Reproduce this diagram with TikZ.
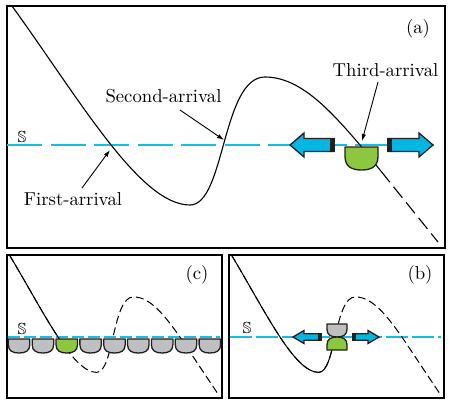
\documentclass[tikz,border=0pt]{standalone}
\usepackage{fontspec}
\usepackage{graphicx}
\usepackage{amssymb}
\usetikzlibrary{arrows.meta}
\definecolor{cyanline}{RGB}{20,190,228}
\definecolor{arrcyan}{RGB}{0,183,228}
\definecolor{detgreen}{RGB}{141,198,63}
\definecolor{detgray}{RGB}{190,191,193}
\definecolor{outl}{RGB}{35,31,32}
% detector: flat side at (#1,#2), width #3, height #4 (negative = flipped), style #5
\newcommand\drawdet[5]{%
\begin{scope}[shift={(#1,#2)},xscale=#3,yscale=#4]
\filldraw[#5] (0,0) -- (1,0) -- (1,0.4) .. controls (1,0.85) and (0.8,1) .. (0.5,1) .. controls (0.2,1) and (0,0.85) .. (0,0.4) -- cycle;
\end{scope}}
% block arrow: tip (#1,#2), dir #3 (1 = points left), length #4, head length #5, head half #6, body half #7, band #8
\newcommand\blockarrow[8]{%
\begin{scope}[shift={(#1,#2)},xscale=#3]
\filldraw[fill=arrcyan,draw=outl,line width=1.3pt,line join=miter] (0,0) -- (#5,-#6) -- (#5,-#7) -- (#4,-#7) -- (#4,#7) -- (#5,#7) -- (#5,#6) -- cycle;
\fill[outl] (#4-#8,-#7-0.6) rectangle (#4+0.6,#7+0.6);
\end{scope}}
\newcommand\wavepath[1]{\draw[#1] (12,6) .. controls (80,100) and (140,205) .. (190,205) .. controls (225,205) and (222,77) .. (265,77) .. controls (300,77) and (330,110) .. (360,145) -- (438,242);}
\newcommand\bigtxt[1]{\scalebox{1.87}{#1}}
\newcommand\sym{\scalebox{1.6}{$\mathbb{S}$}}
\begin{document}
\begin{tikzpicture}[x=1pt,y=-1pt,
  frame/.style={draw=black,line width=1.5pt},
  sline/.style={color=cyanline,line width=1.1pt},
  lbl/.style={inner sep=0pt},
  ptr/.style={draw=black,line width=0.9pt,-{Latex[length=7pt,width=4.5pt]}},
  wave/.style={draw=black,line width=1.1pt},
  det/.style={draw=outl,line width=1.3pt,line join=round}]
\useasboundingbox (0,0) rectangle (452,407);

% ---------------- panel (a)
\draw[frame] (7,6) rectangle (445,248);
\draw[sline,dash pattern=on 35pt off 8.5pt] (7,145) -- (434,145);
\node[lbl,anchor=base] (Sa) at (22,142) {\sym};
\draw[wave] (12,6) .. controls (80,100) and (140,205) .. (190,205) .. controls (225,205) and (222,77) .. (265,77) .. controls (300,77) and (330,110) .. (360,145) -- (381,171.2);
\draw[wave,dash pattern=on 14pt off 6pt] (381,171.2) -- (438,242);
\blockarrow{290}{145}{1}{44}{14}{12}{6.5}{4}
\blockarrow{433}{145}{-1}{45}{14}{12}{6.5}{4}
\drawdet{345}{147}{33}{23}{det,fill=detgreen}
\node[lbl,anchor=base] (la) at (418,33) {\bigtxt{(a)}};
\node[lbl,anchor=base] (lthird) at (385.5,76) {\bigtxt{Third-arrival}};
\node[lbl,anchor=base] (lsecond) at (163.5,102) {\bigtxt{Second-arrival}};
\node[lbl,anchor=base] (lfirst) at (73,205) {\bigtxt{First-arrival}};
\coordinate (tstart) at (378,82);
\coordinate (tend) at (362,141);
\coordinate (sstart) at (180,110);
\coordinate (send) at (224,140);
\coordinate (fstart) at (82,188);
\coordinate (fend) at (110,150);
\draw[ptr] (tstart) -- (tend);
\draw[ptr] (sstart) -- (send);
\draw[ptr] (fstart) -- (fend);

% ---------------- panel (c)
\draw[frame] (7,255) rectangle (222,398);
\draw[sline,dash pattern=on 12pt off 4pt] (8,337) -- (220,337);
\node[lbl,anchor=base] (Sc) at (22,334) {\sym};
\begin{scope}[shift={(3.57,251.46)},xscale=0.49,yscale=0.59]
  \wavepath{draw=black,line width=1pt,dash pattern=on 8pt off 4pt}
  \begin{scope}
    \clip (0,0) rectangle (116,150);
    \wavepath{draw=black,line width=1pt}
  \end{scope}
\end{scope}
\foreach \i in {0,...,8}{
  \ifnum\i=2
    \drawdet{8.3+\i*23.85}{339}{21.5}{14}{det,fill=detgreen}
  \else
    \drawdet{8.3+\i*23.85}{339}{21.5}{14}{det,fill=detgray}
  \fi
}
\node[lbl,anchor=base] (lc) at (197,279.5) {\bigtxt{(c)}};

% ---------------- panel (b)
\draw[frame] (229,255) rectangle (444,398);
\draw[sline,dash pattern=on 22pt off 4pt] (230,337) -- (441,337);
\node[lbl,anchor=base] (Sb) at (247,333) {\sym};
\begin{scope}[shift={(225.57,251.46)},xscale=0.49,yscale=0.59]
  \wavepath{draw=black,line width=1pt,dash pattern=on 8pt off 4pt}
  \begin{scope}
    \clip (0,0) rectangle (219,250);
    \wavepath{draw=black,line width=1pt}
  \end{scope}
\end{scope}
\blockarrow{293}{337}{1}{28}{11}{6.5}{3.3}{3}
\blockarrow{379}{337}{-1}{26}{11}{6.5}{3.3}{3}
\drawdet{327}{324}{20}{13}{det,fill=detgray}
\drawdet{327}{350}{20}{-13}{det,fill=detgreen}
\node[lbl,anchor=base] (lb) at (420,279.5) {\bigtxt{(b)}};
\end{tikzpicture}
\end{document}
